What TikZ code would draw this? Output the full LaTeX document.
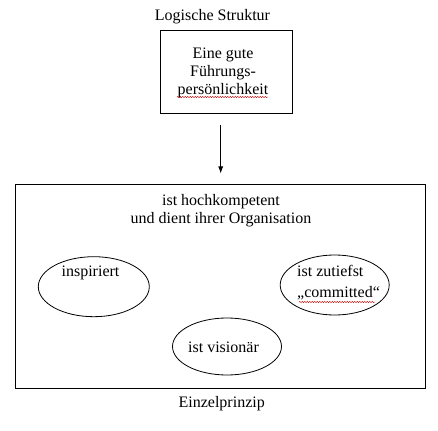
\documentclass[tikz,border=0pt]{standalone}
\usepackage{fontspec}
\setmainfont{Liberation Serif}
\usetikzlibrary{shapes.geometric,arrows.meta,decorations.pathmorphing}
\begin{document}
\begin{tikzpicture}[x=1pt,y=-1pt,
  txt/.style={inner sep=0pt,font=\fontsize{16}{18}\selectfont,align=center},
  frame/.style={draw=black,line width=0.9pt,inner sep=0pt},
  oval/.style={draw=black,line width=0.8pt,ellipse,inner sep=0pt},
  spell/.style={draw=red!80!black,line width=0.4pt,decorate,decoration={snake,amplitude=0.7pt,segment length=2.5pt}}]
\useasboundingbox (0,0) rectangle (438,430);
\node[txt] (title) at (212.5,17) {Logische Struktur};
\node[frame,minimum width=132,minimum height=83] (topbox) at (226.5,71.5) {};
\node[txt] (toptext) at (223,73) {Eine gute\\Führungs-\\persönlichkeit};
\coordinate (s1a) at (177,97);
\coordinate (s1b) at (268,97);
\draw[spell] (s1a) -- (s1b);
\coordinate (a1) at (220.7,125);
\coordinate (a2) at (220.7,173.5);
\draw[line width=0.8pt,-{Latex[length=7pt,width=5pt]}] (a1) -- (a2);
\node[frame,minimum width=409.5,minimum height=204.5] (bigbox) at (220.25,286.5) {};
\node[txt] (head) at (221,211) {ist hochkompetent\\und dient ihrer Organisation};
\node[oval,minimum width=111,minimum height=60] (e1) at (93.8,286.7) {};
\node[txt] (t1) at (90.5,273) {inspiriert};
\node[oval,minimum width=109,minimum height=60] (e2) at (334.7,285) {};
\node[txt,align=left,anchor=west,font=\fontsize{16}{21}\selectfont] (t2) at (297,283) {ist zutiefst\\„committed“};
\coordinate (s2a) at (299,302);
\coordinate (s2b) at (375,302);
\draw[spell] (s2a) -- (s2b);
\node[oval,minimum width=109,minimum height=57] (e3) at (227,346.5) {};
\node[txt] (t3) at (223.5,347.5) {ist visionär};
\node[txt] (foot) at (221.7,404) {Einzelprinzip};
\end{tikzpicture}
\end{document}
